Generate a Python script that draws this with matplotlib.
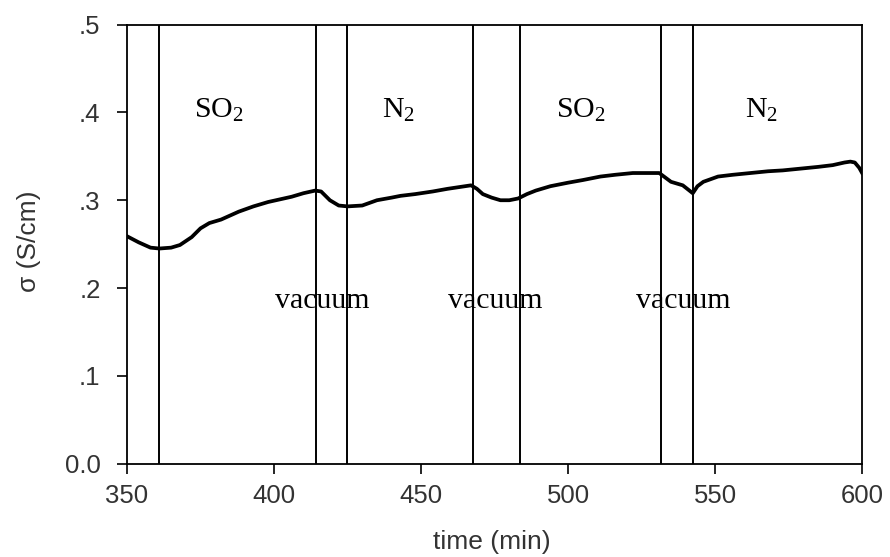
import matplotlib
matplotlib.use("Agg")
import matplotlib.pyplot as plt

plt.rcParams["mathtext.fontset"] = "custom"
plt.rcParams["mathtext.rm"] = "Liberation Serif"
plt.rcParams["mathtext.it"] = "Liberation Serif:italic"

time_min = [350, 354, 358, 361, 365, 368, 372, 375, 378, 382,
            388, 393, 398, 402, 406, 410, 414, 416, 419, 422,
            425, 430, 435, 440, 443, 448, 454, 459, 463, 467,
            469, 471, 474, 477, 480, 483, 486, 489, 494, 500,
            505, 511, 516, 522, 527, 531, 533, 535, 539, 542.4,
            544, 546, 551, 556, 562, 568, 573, 579, 585, 590,
            594, 596, 597.5, 599, 600]
sigma = [0.259, 0.252, 0.246, 0.245, 0.246, 0.249, 0.258, 0.268, 0.274, 0.278,
         0.287, 0.293, 0.298, 0.301, 0.304, 0.308, 0.311, 0.310, 0.300, 0.294,
         0.293, 0.294, 0.300, 0.303, 0.305, 0.307, 0.310, 0.313, 0.315, 0.317,
         0.313, 0.307, 0.303, 0.300, 0.300, 0.302, 0.307, 0.311, 0.316, 0.320,
         0.323, 0.327, 0.329, 0.331, 0.331, 0.331, 0.326, 0.321, 0.317, 0.308,
         0.316, 0.321, 0.327, 0.329, 0.331, 0.333, 0.334, 0.336, 0.338, 0.340,
         0.343, 0.344, 0.343, 0.337, 0.331]

switch_times = [360.8, 414.2, 424.7, 467.8, 483.7, 531.6, 542.4]

gas_labels = ["SO$_2$", "N$_2$", "SO$_2$", "N$_2$"]
gas_x = [381.3, 442.2, 504.3, 565.9]
gas_y = 0.3936
vacuum_x = [416.3, 475.2, 539.1]
vacuum_y = 0.177

x_ticks = [350, 400, 450, 500, 550, 600]
y_ticks = [0.0, 0.1, 0.2, 0.3, 0.4, 0.5]
y_tick_labels = ["0.0", ".1", ".2", ".3", ".4", ".5"]

fig = plt.figure(figsize=(8.9, 5.57), dpi=100)
ax = fig.add_axes([0.1427, 0.1677, 0.826, 0.788])

for t in switch_times:
    ax.axvline(t, color="black", lw=1.4)

ax.plot(time_min, sigma, color="black", lw=2.7, solid_joinstyle="round")

serif = "Liberation Serif"
for lab, xv in zip(gas_labels, gas_x):
    ax.text(xv, gas_y, lab, family=serif, fontsize=21.5, ha="center", va="baseline")
for xv in vacuum_x:
    ax.text(xv, vacuum_y, "vacuum", family=serif, fontsize=21.5, ha="center", va="baseline")

ax.set_xlim(350, 600)
ax.set_ylim(0, 0.5)
ax.set_xticks(x_ticks)
ax.set_yticks(y_ticks)
ax.set_yticklabels(y_tick_labels)

sans = "Liberation Sans"
ax.tick_params(direction="out", length=7, width=1.2, colors="black")
ax.tick_params(axis="x", pad=8)
ax.tick_params(axis="y", pad=12)
for lbl in ax.get_xticklabels() + ax.get_yticklabels():
    lbl.set_family(sans)
    lbl.set_fontsize(18.5)
    lbl.set_color("#333333")

for s in ax.spines.values():
    s.set_linewidth(1.3)

ax.set_xlabel("time (min)", family=sans, fontsize=19, color="#333333")
ax.set_ylabel("σ (S/cm)", family=sans, fontsize=19, color="#333333")
ax.xaxis.label.set_va("center")
ax.yaxis.label.set_va("center")
ax.xaxis.set_label_coords(0.496, -0.1786)
ax.yaxis.set_label_coords(-0.1333, 0.506)

fig.savefig("out.png", dpi=100, facecolor="white")
